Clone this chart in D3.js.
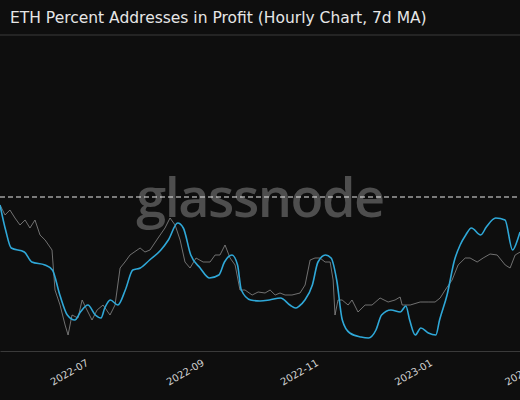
<!DOCTYPE html>
<html><head><meta charset="utf-8">
<script src="https://cdn.jsdelivr.net/npm/d3@7"></script>
<style>body{margin:0;background:#0e0e0e;}svg{display:block;}</style>
</head><body><div id="chart"></div>
<script>
// data: day offsets from 2022-05-17, values in % of addresses
var startDate = "2022-05-17";
var maDays = [0,3,6,13,17,24,28,32,36,40,43,47,51,54,56,59,63,67,71,75,80,86,90,95,98,102,107,112,117,120,124,127,129,134,139,144,150,155,158,160,163,167,170,174,177,180,183,187,193,197,201,204,209,214,217,219,222,225,229,233,235,239,243,246,249,252,257,260,265,270,274,277,278];
var maValues = [58.4,53.4,49.8,49.0,47.0,46.4,45.4,40.4,36.4,35.4,37.0,38.4,36.4,35.8,37.8,39.4,38.4,41.4,45.4,45.8,47.4,49.4,51.4,54.8,53.8,48.4,45.8,43.8,44.4,47.0,48.4,46.4,41.4,39.4,39.2,39.4,39.8,38.4,37.8,38.2,39.4,42.4,47.0,48.4,47.8,43.4,35.4,32.8,32.0,31.8,33.4,36.4,37.4,37.0,38.2,35.4,32.4,33.8,32.8,32.4,35.4,40.4,47.4,50.4,52.4,53.8,52.4,54.0,55.8,55.4,49.4,51.8,53.0];
var rawDays = [0,2.7,5.3,8,10.7,13.4,16,18.7,21.4,24.1,27.8,29.4,32.1,34.8,36.4,38.5,41.7,43.9,46.5,49.2,51.9,55.1,58.8,61.5,64.2,66.8,69.5,74.9,77.5,80.2,84.5,88.2,90.9,93.6,96.3,98.9,101.6,104.8,108.6,112.3,115,117.6,120.3,123,125.7,128.3,131,134.8,138,141.7,144.4,147.1,149.7,152.4,156.1,160.4,163.1,165.8,168.4,171.1,173.8,176.5,178.1,179.1,180.7,182.9,186.1,188.2,191.4,195.2,198.9,203.2,207.5,211.2,213.9,215,219.3,224.6,228.9,232.6,235.3,238,241.7,244.9,248.7,251.3,255.1,258.3,262,265.8,270.1,272.7,275.4,278.1];
var rawValues = [58.4,56.4,57.4,55.8,54.4,55.4,53.8,55.4,52.4,51.4,49.4,41.4,38.4,34.4,32.4,36.4,35.8,39.4,37.4,35.4,37.4,38.4,36.4,38.4,45.8,47.0,48.4,49.8,49.0,49.4,51.8,53.8,55.8,54.4,51.4,47.0,45.8,47.8,47.0,47.0,48.4,48.4,50.4,47.8,46.4,41.4,41.4,40.4,41.0,40.8,41.4,40.4,40.8,40.4,40.4,40.8,42.4,47.4,47.8,47.8,47.0,47.0,43.4,36.4,39.4,39.4,38.4,39.4,37.0,38.4,38.4,39.8,39.0,39.4,40.0,38.4,38.4,39.0,39.0,39.0,39.8,41.4,43.4,46.4,47.8,47.8,47.0,47.8,48.6,48.4,46.4,45.8,48.4,49.0];
var tickDates = ["2022-07-01","2022-09-01","2022-11-01","2023-01-01","2023-03-01"];
var refLevel = 60;
var title = "ETH Percent Addresses in Profit (Hourly Chart, 7d MA)";

var width = 520, height = 400;
var plotTop = 35, plotBottom = 351;
var parse = d3.timeParse("%Y-%m-%d");
var t0 = parse(startDate);
function toDate(d) { return new Date(t0.getTime() + d * 864e5); }

var svg = d3.select("#chart").append("svg")
    .attr("width", width).attr("height", height)
    .style("background", "#0e0e0e");

var x = d3.scaleTime()
    .domain([t0, toDate(278)])
    .range([0, width]);
var y = d3.scaleLinear()
    .domain([29.2, 92.4])
    .range([plotBottom, plotTop]);

// title + top rule
svg.append("text").attr("x", 10).attr("y", 23)
    .attr("fill", "#e6e6e6").style("font", "15.5px 'DejaVu Sans'")
    .text(title);
svg.append("line").attr("x1", 0).attr("x2", width).attr("y1", plotTop).attr("y2", plotTop)
    .attr("stroke", "#3a3a3a");

// watermark
svg.append("text").attr("x", 260).attr("y", 217).attr("text-anchor", "middle")
    .attr("fill", "#6a6a6a").attr("fill-opacity", 0.7)
    .style("font", "600 54px 'Open Sans'").style("letter-spacing", "-1.5px")
    .text("glassnode");

// reference line
svg.append("line").attr("x1", 0).attr("x2", width)
    .attr("y1", y(refLevel)).attr("y2", y(refLevel))
    .attr("stroke", "#e8e8e8").attr("stroke-dasharray", "5,3").attr("stroke-width", 1.2);

var line = d3.line().x(function(d){ return x(d[0]); }).y(function(d){ return y(d[1]); });

svg.append("path")
    .datum(rawDays.map(function(d, i){ return [toDate(d), rawValues[i]]; }))
    .attr("d", line).attr("fill", "none")
    .attr("stroke", "#8a8a8a").attr("stroke-width", 0.8);

svg.append("path")
    .datum(maDays.map(function(d, i){ return [toDate(d), maValues[i]]; }))
    .attr("d", line.curve(d3.curveMonotoneX)).attr("fill", "none")
    .attr("stroke", "#2fa8d8").attr("stroke-width", 1.6);

// x axis
var xAxis = svg.append("g").attr("transform", "translate(0," + plotBottom + ")")
    .call(d3.axisBottom(x).tickValues(tickDates.map(parse))
        .tickFormat(d3.timeFormat("%Y-%m")).tickSize(0).tickPadding(6));
xAxis.select(".domain").attr("stroke", "#3a3a3a");
xAxis.selectAll("text")
    .attr("fill", "#d0d0d0").style("font", "10px 'DejaVu Sans'")
    .attr("text-anchor", "end").attr("dy", "0.3em")
    .attr("transform", "translate(0,6) rotate(-30)");
</script>
</body></html>
